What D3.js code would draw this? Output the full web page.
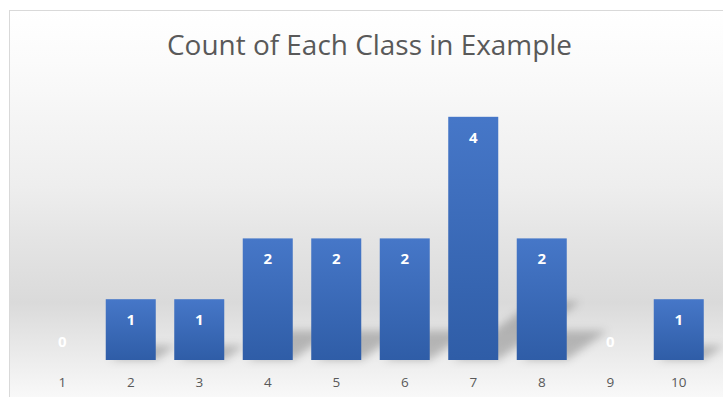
<!DOCTYPE html>
<html>
<head>
<meta charset="utf-8">
<script src="https://cdn.jsdelivr.net/npm/d3@7"></script>
<style>
  body { margin: 0; background: #ffffff; }
  svg { display: block; }
</style>
</head>
<body>
<svg id="chart" width="723" height="397"></svg>
<script>
// Class labels and how many times each occurs
const classes = ["1", "2", "3", "4", "5", "6", "7", "8", "9", "10"];
const counts = [0, 1, 1, 2, 2, 2, 4, 2, 0, 1];
const chartTitle = "Count of Each Class in Example";

const svg = d3.select("#chart");
const W = 723, H = 397;
const FONT = "'Open Sans', Lato, sans-serif";
const defs = svg.append("defs");

// Chart area background: white fading into a soft gray band, then back to white
const bg = defs.append("linearGradient").attr("id", "bgGrad")
  .attr("x1", 0).attr("y1", 0).attr("x2", 0).attr("y2", 1);
[[0, "#ffffff"], [0.12, "#fbfbfb"], [0.42, "#eeeeee"], [0.55, "#e4e4e4"],
 [0.70, "#dadada"], [0.84, "#ededed"], [0.93, "#f9f9f9"], [1, "#ffffff"]]
  .forEach(([o, c]) => bg.append("stop").attr("offset", o).attr("stop-color", c));

// Column fill: lighter blue at the top, deeper blue at the base
const barGrad = defs.append("linearGradient").attr("id", "barGrad")
  .attr("x1", 0).attr("y1", 0).attr("x2", 0).attr("y2", 1);
barGrad.append("stop").attr("offset", 0).attr("stop-color", "#4677c8");
barGrad.append("stop").attr("offset", 1).attr("stop-color", "#2f5da7");

// Soft blur for the cast shadows
defs.append("filter").attr("id", "shadowBlur")
  .attr("x", "-50%").attr("y", "-50%").attr("width", "200%").attr("height", "200%")
  .append("feGaussianBlur").attr("stdDeviation", 4);

// Chart area with its thin border
svg.append("rect")
  .attr("x", 9.5).attr("y", 10.5)
  .attr("width", W + 20).attr("height", H + 20)
  .attr("fill", "url(#bgGrad)")
  .attr("stroke", "#d9d9d9").attr("stroke-width", 1);

// Title
svg.append("text")
  .attr("x", 167).attr("y", 55)
  .attr("font-family", FONT)
  .attr("font-weight", 400)
  .attr("font-size", 27)
  .attr("textLength", 405)
  .attr("lengthAdjust", "spacingAndGlyphs")
  .attr("fill", "#595959")
  .text(chartTitle);

// Scales
const x = d3.scaleBand()
  .domain(classes)
  .range([28, 713])
  .paddingInner(0.27)
  .paddingOuter(0.135);

const y = d3.scaleLinear()
  .domain([0, 5])
  .range([360, 56]);

const data = classes.map((c, i) => ({ cls: c, count: counts[i] }));
const base = y(0);

// Perspective shadows cast up and to the right of each column
svg.append("g").attr("filter", "url(#shadowBlur)")
  .selectAll("polygon")
  .data(data.filter(d => d.count > 0))
  .join("polygon")
  .attr("points", d => {
    const x0 = x(d.cls), x1 = x0 + x.bandwidth();
    const dh = (base - y(d.count)) * 0.24;
    const dx = dh * 1.4;
    return [[x0 + 4, base], [x1, base], [x1 + dx, base - dh], [x0 + dx + 4, base - dh]]
      .map(p => p.join(",")).join(" ");
  })
  .attr("fill", "#000000")
  .attr("opacity", 0.22);

// Columns
svg.append("g")
  .selectAll("rect")
  .data(data)
  .join("rect")
  .attr("x", d => x(d.cls))
  .attr("y", d => y(d.count))
  .attr("width", x.bandwidth())
  .attr("height", d => base - y(d.count))
  .attr("fill", "url(#barGrad)");

// Value labels inside the top of each column
svg.append("g")
  .selectAll("text")
  .data(data)
  .join("text")
  .attr("x", d => x(d.cls) + x.bandwidth() / 2)
  .attr("y", d => Math.min(y(d.count) + 26, base - 13))
  .attr("text-anchor", "middle")
  .attr("font-family", FONT)
  .attr("font-weight", 700)
  .attr("font-size", 15)
  .attr("fill", "#ffffff")
  .text(d => d.count);

// Category axis labels (no axis line or ticks)
const xAxis = d3.axisBottom(x).tickSize(0).tickPadding(0);
const gx = svg.append("g")
  .attr("transform", `translate(0, ${base + 27})`)
  .call(xAxis);
gx.select(".domain").remove();
gx.selectAll("text")
  .attr("dy", 0)
  .attr("font-family", FONT)
  .attr("font-size", 13.5)
  .attr("fill", "#595959");
</script>
</body>
</html>
